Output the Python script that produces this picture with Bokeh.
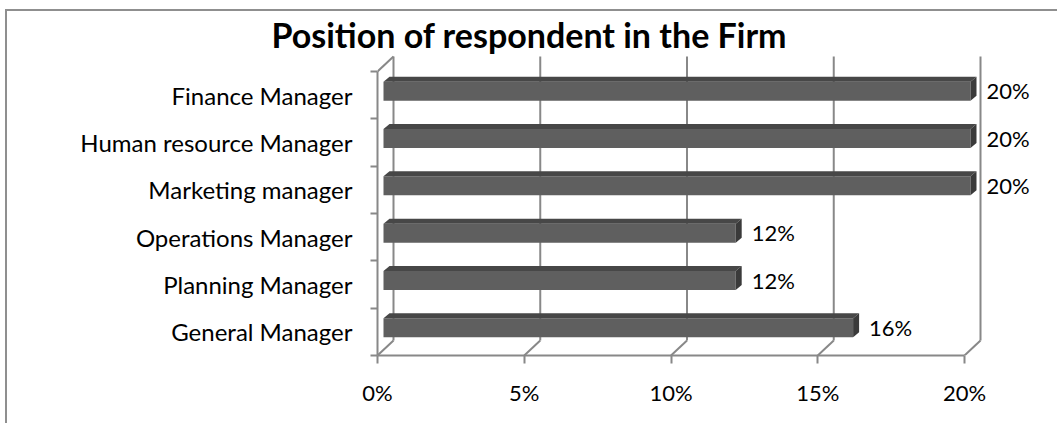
from bokeh.plotting import figure
from bokeh.models import Range1d, FixedTicker, PrintfTickFormatter
from bokeh.core.properties import value
from bokeh.embed import file_html
from bokeh.resources import INLINE

# ---------------- data ----------------
categories = ["General Manager", "Planning Manager", "Operations Manager",
              "Marketing manager", "Human resource Manager", "Finance Manager"]
values = [16, 12, 12, 20, 20, 20]
value_labels = ["16%", "12%", "12%", "20%", "20%", "20%"]
x_ticks = [0, 5, 10, 15, 20]
title_text = "Position of respondent in the Firm"

# ---------------- styling / geometry (pixels) ----------------
FONT = "Lato"
GRAY = "#888888"
FRONT = "#5f5f5f"
TOP = "#474747"
SIDE = "#3a3a3a"
FRAME_W = 680
FRAME_H = 301
PX_PER_PCT = 29.35
PX_PER_BAND = 47.33

x_end = FRAME_W / PX_PER_PCT
y_end = FRAME_H / PX_PER_BAND
ux = x_end / FRAME_W   # data units per pixel (x)
uy = y_end / FRAME_H   # data units per pixel (y)

n = len(categories)
centers = [i + 0.5 for i in range(n)]

p = figure(frame_width=FRAME_W, frame_height=FRAME_H,
           x_range=Range1d(0, x_end), y_range=Range1d(0, y_end),
           output_backend="svg", toolbar_location=None,
           min_border_left=370, min_border_top=42, min_border_bottom=69,
           min_border_right=0, title=title_text)
p.styles = {"border-left": "2px solid #8f8f8f", "border-top": "2px solid #8f8f8f",
            "margin-left": "5px", "margin-top": "9px"}
p.outline_line_color = None
p.grid.visible = False
p.background_fill_color = "white"
p.border_fill_color = "white"

p.title.text_font = FONT
p.title.text_font_size = "34px"
p.title.text_font_style = "bold"
p.title.text_color = "black"
p.title.align = "left"
p.title.offset = -106
p.title.standoff = 0

# walls (3D depth)
WX = 16 * ux
WY = 15 * uy
top_val = float(n)
p.segment(x0=[t + WX for t in x_ticks], y0=[WY] * len(x_ticks),
          x1=[t + WX for t in x_ticks], y1=[top_val + WY] * len(x_ticks),
          line_color=GRAY, line_width=2)
p.segment(x0=x_ticks, y0=[0] * len(x_ticks),
          x1=[t + WX for t in x_ticks], y1=[WY] * len(x_ticks),
          line_color=GRAY, line_width=2)
p.segment(x0=[0], y0=[top_val], x1=[WX], y1=[top_val + WY],
          line_color=GRAY, line_width=2)

# bars
BX = 6 * ux
BY = 4 * uy
HH = 9.5 * uy
DX = 6 * ux
DY = 5 * uy
lefts = [BX] * n
rights = [v + BX for v in values]
bottoms = [c + BY - HH for c in centers]
tops = [c + BY + HH for c in centers]
p.quad(left=lefts, right=rights, bottom=bottoms, top=tops,
       fill_color=FRONT, line_color=None)
top_xs = [[l, r, r + DX, l + DX] for l, r in zip(lefts, rights)]
top_ys = [[t, t, t + DY, t + DY] for t in tops]
p.patches(xs=top_xs, ys=top_ys, fill_color=TOP, line_color=None)
side_xs = [[r, r, r + DX, r + DX] for r in rights]
side_ys = [[b, t, t + DY, b + DY] for b, t in zip(bottoms, tops)]
p.patches(xs=side_xs, ys=side_ys, fill_color=SIDE, line_color=None)

# value labels
p.text(x=[r + 16 * ux for r in rights], y=[c + BY + 0.5 * uy for c in centers],
       text=value_labels, text_font=value(FONT), text_font_size="22px",
       text_baseline="middle", text_align="left", text_color="black")

# y axis (categories)
ya = p.yaxis[0]
ya.ticker = FixedTicker(ticks=centers, minor_ticks=list(range(n + 1)))
ya.major_label_overrides = {c: name for c, name in zip(centers, categories)}
ya.bounds = (0, n)
ya.axis_line_color = GRAY
ya.axis_line_width = 2
ya.major_tick_line_color = None
ya.major_tick_out = 0
ya.major_tick_in = 0
ya.minor_tick_line_color = GRAY
ya.minor_tick_line_width = 2
ya.minor_tick_out = 7
ya.minor_tick_in = 0
ya.major_label_standoff = 18
ya.major_label_text_font = FONT
ya.major_label_text_font_size = "24px"
ya.major_label_text_color = "black"

# x axis
xa = p.xaxis[0]
xa.ticker = FixedTicker(ticks=x_ticks, minor_ticks=[])
xa.formatter = PrintfTickFormatter(format="%d%%")
xa.bounds = (0, 20)
xa.axis_line_color = GRAY
xa.axis_line_width = 2
xa.major_tick_line_color = GRAY
xa.major_tick_line_width = 2
xa.major_tick_out = 8
xa.major_tick_in = 0
xa.major_label_standoff = 15
xa.major_label_text_font = FONT
xa.major_label_text_font_size = "22px"
xa.major_label_text_color = "black"

open("out.html", "w").write(file_html(p, INLINE))
